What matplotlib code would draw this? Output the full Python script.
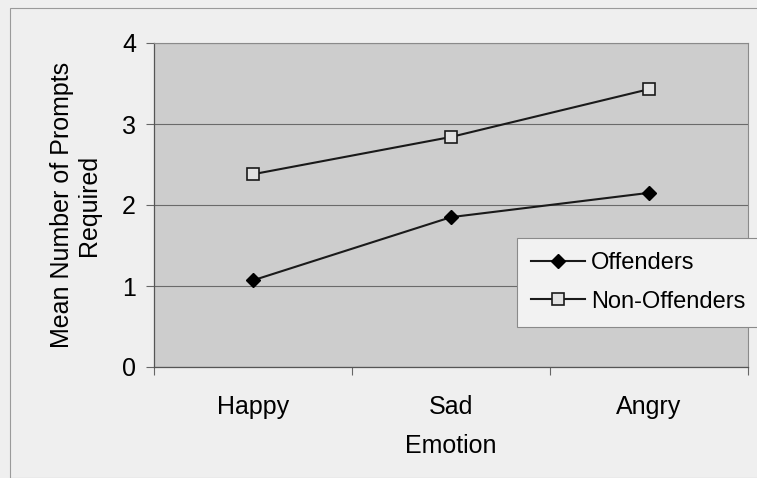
import matplotlib.pyplot as plt
from matplotlib.patches import Rectangle

# values
emotions = ["Happy", "Sad", "Angry"]
offenders = [1.07, 1.85, 2.15]
non_offenders = [2.38, 2.84, 3.43]
y_ticks = [0, 1, 2, 3, 4]

plt.rcParams["font.family"] = ["Liberation Sans", "DejaVu Sans"]

fig = plt.figure(figsize=(7.57, 4.78), dpi=100, facecolor="#efefef")

# outer chart frame (scanned excel look)
fig.patches.append(Rectangle((10 / 757, 0.0), 1.0, 1 - 8 / 478,
                             transform=fig.transFigure, fill=False,
                             edgecolor="#9a9a9a", linewidth=0.8))

ax = fig.add_axes([154 / 757, 1 - 367 / 478, 594 / 757, 324 / 478])
ax.set_facecolor("#cdcdcd")

x = range(len(emotions))
ax.plot(x, offenders, color="#1a1a1a", linewidth=1.5, marker="D",
        markersize=7.5, markerfacecolor="black", markeredgecolor="black",
        label="Offenders", zorder=3)
ax.plot(x, non_offenders, color="#1a1a1a", linewidth=1.5, marker="s",
        markersize=8.5, markerfacecolor="#e2e2e2", markeredgecolor="#1a1a1a",
        markeredgewidth=1.2, label="Non-Offenders", zorder=3)

ax.set_xlim(-0.5, 2.5)
ax.set_ylim(0, 4)
ax.set_yticks(y_ticks)
ax.set_xticks(list(x))
ax.set_xticklabels(emotions, fontsize=18)
ax.set_xticks([-0.5, 0.5, 1.5, 2.5], minor=True)
ax.tick_params(axis="x", which="major", length=0, pad=20)
ax.tick_params(axis="x", which="minor", length=6, width=0.8, color="#666666")
ax.tick_params(axis="y", length=6, width=0.8, color="#666666",
               labelsize=18, pad=7)

ax.yaxis.grid(True, color="#6a6a6a", linewidth=0.8)
ax.set_axisbelow(True)
for side in ["top", "right"]:
    ax.spines[side].set_color("#8a8a8a")
    ax.spines[side].set_linewidth(0.8)
for side in ["left", "bottom"]:
    ax.spines[side].set_color("#555555")
    ax.spines[side].set_linewidth(0.9)

ax.set_xlabel("Emotion", fontsize=18, labelpad=11)
ax.set_ylabel("Mean Number of Prompts\nRequired", fontsize=18, labelpad=15,
              linespacing=1.15)

leg = ax.legend(loc="upper left", bbox_to_anchor=(517 / 757, 1 - 238 / 478),
                bbox_transform=fig.transFigure, fontsize=17, frameon=True,
                fancybox=False, framealpha=1, edgecolor="#8a8a8a",
                facecolor="#f2f2f2", handlelength=2.3, handletextpad=0.25,
                borderpad=0.6, labelspacing=0.7, borderaxespad=0)
leg.get_frame().set_linewidth(0.8)

fig.savefig("out.png", dpi=100, facecolor=fig.get_facecolor())
